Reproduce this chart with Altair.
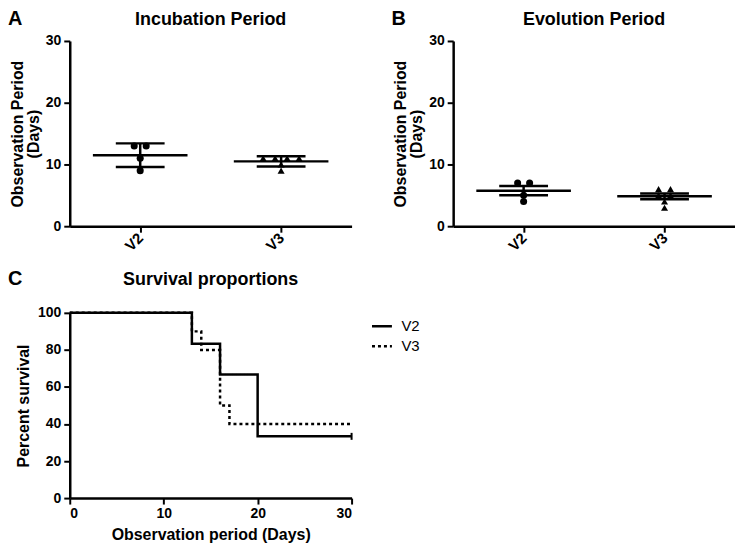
import altair as alt
import pandas as pd

FONT = "Liberation Sans"

groups = ["V2", "V3"]

# Panel A: incubation period (days)
incub_v2 = [13, 13, 11, 9]
incub_v3 = [11, 11, 11, 11, 10, 9]

# Panel B: evolution period (days)
evol_v2 = [7, 7, 5, 4]
evol_v3 = [6, 3, 5, 4, 5, 6]

# Panel C: Kaplan-Meier survival steps
surv_v2_days = [0, 13, 16, 20, 30]
surv_v2_pct = [100, 83.33, 66.67, 33.33, 33.33]
surv_v3_days = [0, 13, 14, 16, 17, 30]
surv_v3_pct = [100, 90, 80, 50, 40, 40]
censor_v2_days = [30]
censor_v2_pct = [33.33]

y_ticks_dot = [0, 10, 20, 30]
x_ticks_surv = [0, 10, 20, 30]
y_ticks_surv = [0, 20, 40, 60, 80, 100]

PW = 283
PH = 186
LX = -62


def label_layer(text, dx, dy, size, align):
    return alt.Chart(pd.DataFrame({"t": [text]})).mark_text(
        align=align, baseline="alphabetic", fontSize=size, fontWeight="bold",
        font=FONT, color="black"
    ).encode(text="t:N", x=alt.value(dx), y=alt.value(dy))


def dot_panel(v2, v3, title, letter, err):
    df = pd.DataFrame({"group": ["V2"] * len(v2) + ["V3"] * len(v3),
                       "value": v2 + v3})
    xs = alt.Scale(domain=[-0.5, 1.5], nice=False, zero=False)
    ys = alt.Scale(domain=[0, 30], nice=False)
    xaxis = alt.Axis(values=[0, 1],
                     labelExpr="datum.value == 0 ? 'V2' : 'V3'",
                     labelAngle=-45, labelAlign="right", labelBaseline="middle",
                     title=None, grid=False, labelFontSize=15)
    yaxis = alt.Axis(values=y_ticks_dot, title=["Observation Period", "(Days)"],
                     grid=False, titlePadding=4, titleLineHeight=16)
    base = alt.Chart(df)
    pts = base.transform_calculate(
        gi="datum.group == 'V2' ? 0 : 1"
    ).transform_window(
        rk="row_number()", groupby=["group", "value"]
    ).transform_joinaggregate(
        n="count()", groupby=["group", "value"]
    ).transform_calculate(
        xpos="datum.gi + (datum.rk - (datum.n + 1) / 2) * 0.085"
    ).mark_point(filled=True, size=50, opacity=1, color="black").encode(
        x=alt.X("xpos:Q", scale=xs, axis=xaxis),
        y=alt.Y("value:Q", scale=ys, axis=yaxis),
        shape=alt.Shape("group:N",
                        scale=alt.Scale(domain=groups, range=["circle", "triangle-up"]),
                        legend=None),
    )
    stats = base.transform_aggregate(
        mean="mean(value)", e=f"{err}(value)", groupby=["group"]
    ).transform_calculate(
        gi="datum.group == 'V2' ? 0 : 1",
        lo="datum.mean - datum.e",
        hi="datum.mean + datum.e",
    )
    mean_line = stats.mark_tick(orient="horizontal", size=95, thickness=2.5,
                                color="black", opacity=1).encode(
        x=alt.X("gi:Q", scale=xs, axis=xaxis), y=alt.Y("mean:Q", scale=ys, axis=yaxis))
    cap_hi = stats.mark_tick(orient="horizontal", size=49, thickness=2.5,
                             color="black", opacity=1).encode(
        x=alt.X("gi:Q", scale=xs, axis=xaxis), y=alt.Y("hi:Q", scale=ys, axis=yaxis))
    cap_lo = stats.mark_tick(orient="horizontal", size=49, thickness=2.5,
                             color="black", opacity=1).encode(
        x=alt.X("gi:Q", scale=xs, axis=xaxis), y=alt.Y("lo:Q", scale=ys, axis=yaxis))
    vline = stats.mark_rule(strokeWidth=2.5, color="black").encode(
        x=alt.X("gi:Q", scale=xs, axis=xaxis), y=alt.Y("lo:Q", scale=ys, axis=yaxis),
        y2="hi:Q")
    return alt.layer(
        vline, mean_line, cap_hi, cap_lo, pts,
        label_layer(letter, LX, -16, 20, "left"),
        label_layer(title, PW / 2, -16, 18, "center"),
    ).properties(width=PW, height=PH)


panel_a = dot_panel(incub_v2, incub_v3, "Incubation Period", "A", "stdev")
panel_b = dot_panel(evol_v2, evol_v3, "Evolution Period", "B", "stderr")

surv = pd.DataFrame({
    "group": ["V2"] * len(surv_v2_days) + ["V3"] * len(surv_v3_days),
    "day": surv_v2_days + surv_v3_days,
    "pct": surv_v2_pct + surv_v3_pct,
})
censor = pd.DataFrame({"day": censor_v2_days, "pct": censor_v2_pct})

sx = alt.Scale(domain=[0, 30], nice=False)
sy = alt.Scale(domain=[0, 100], nice=False)
ax_x = alt.Axis(values=x_ticks_surv, title="Observation period (Days)",
                grid=False, titlePadding=6)
ax_y = alt.Axis(values=y_ticks_surv, title="Percent survival",
                grid=False, titlePadding=6)

lines = alt.Chart(surv).mark_line(
    interpolate="step-after", strokeWidth=2.5, color="black"
).encode(
    x=alt.X("day:Q", scale=sx, axis=ax_x),
    y=alt.Y("pct:Q", scale=sy, axis=ax_y),
    strokeDash=alt.StrokeDash(
        "group:N",
        scale=alt.Scale(domain=groups, range=[[1, 0], [3, 3]]),
        legend=alt.Legend(title=None, symbolType="stroke", orient="right",
                          offset=12, symbolStrokeWidth=2.5, symbolSize=400,
                          symbolStrokeColor="black", labelFontSize=15,
                          labelFont=FONT, labelColor="black", rowPadding=0,
                          labelOffset=8, padding=2),
    ),
    order=alt.Order("day:Q"),
)
ticks = alt.Chart(censor).mark_tick(orient="vertical", size=7, thickness=2,
                                    color="black", opacity=1).encode(
    x=alt.X("day:Q", scale=sx, axis=ax_x), y=alt.Y("pct:Q", scale=sy, axis=ax_y))

panel_c = alt.layer(
    lines, ticks,
    label_layer("C", LX, -28, 20, "left"),
    label_layer("Survival proportions", PW / 2, -28, 18, "center"),
).properties(width=PW, height=PH)

chart = alt.vconcat(
    alt.hconcat(panel_a, panel_b, spacing=40),
    panel_c,
    spacing=15,
).resolve_scale(
    strokeDash="independent", shape="independent"
).resolve_legend(
    strokeDash="independent", shape="independent"
).configure_view(stroke=None).configure_axis(
    domainColor="black", domainWidth=2.5, tickColor="black", tickWidth=2,
    tickSize=6, labelFont=FONT, labelFontWeight="bold", labelFontSize=14,
    labelColor="black", titleFont=FONT, titleFontWeight="bold",
    titleFontSize=16, titleColor="black", labelPadding=3, labelOverlap=False,
).properties(padding=0)

chart.save("out.html", embed_options={"renderer": "svg", "actions": False})
